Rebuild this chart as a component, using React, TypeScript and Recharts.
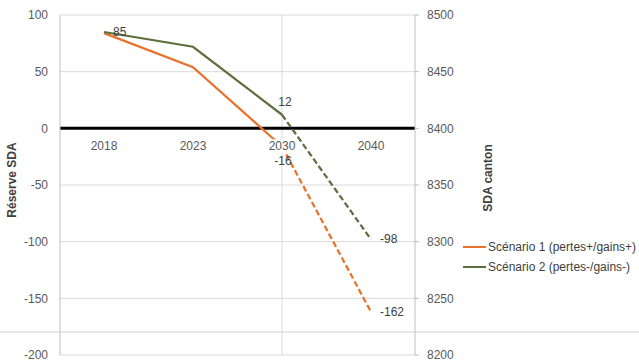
import React from 'react';
import {
  LineChart,
  Line,
  XAxis,
  YAxis,
  CartesianGrid,
  ReferenceLine,
  ReferenceDot,
} from 'recharts';

const categories = ['2018', '2023', '2030', '2040'];
const scenario1 = [84, 54, -16, -162];
const scenario2 = [85, 72, 12, -98];
const seriesNames = ['Scénario 1 (pertes+/gains+)', 'Scénario 2 (pertes-/gains-)'];
const seriesColors = ['#E8722A', '#5E6F3E'];
const leftTicks = [-200, -150, -100, -50, 0, 50, 100];
const rightTicks = [8200, 8250, 8300, 8350, 8400, 8450, 8500];
const projectionStart = 2; // index from which the line is dashed

const data = categories.map((c, i) => ({
  cat: c,
  s1Solid: i <= projectionStart ? scenario1[i] : null,
  s1Dashed: i >= projectionStart ? scenario1[i] : null,
  s2Solid: i <= projectionStart ? scenario2[i] : null,
  s2Dashed: i >= projectionStart ? scenario2[i] : null,
}));

const FONT = '"Liberation Sans", Arial, sans-serif';

const makeLabel = (values: number[], placement: Record<number, string>) => (props: any) => {
  const { x, y, index } = props;
  const where = placement[index];
  if (!where || x == null || y == null) return null;
  let tx = x;
  let ty = y;
  let anchor: 'start' | 'middle' = 'middle';
  if (where === 'right') {
    tx = x + 9;
    anchor = 'start';
  } else if (where === 'above') {
    tx = x + 3;
    ty = y - 13;
  } else if (where === 'below') {
    tx = x + 1;
    ty = y + 15;
  }
  return (
    <text
      key={`lbl-${index}`}
      x={tx}
      y={ty}
      textAnchor={anchor}
      dominantBaseline="central"
      fontFamily={FONT}
      fontSize={12}
      fill="#404040"
    >
      {values[index]}
    </text>
  );
};

const CategoryLabel = (props: any) => {
  const { viewBox, value } = props;
  const cx = viewBox.x + (viewBox.width || 0) / 2;
  const cy = viewBox.y + (viewBox.height || 0) / 2;
  return (
    <g>
      <rect x={cx - 14} y={cy + 11} width={28} height={14} fill="#ffffff" />
      <text
        x={cx}
        y={cy + 18}
        textAnchor="middle"
        dominantBaseline="central"
        fontFamily={FONT}
        fontSize={12}
        fill="#595959"
      >
        {value}
      </text>
    </g>
  );
};

export default function App() {
  return (
    <div
      style={{
        position: 'absolute',
        left: 0,
        top: 0,
        width: 639,
        height: 362,
        background: '#ffffff',
        overflow: 'hidden',
        fontFamily: FONT,
      }}
    >
      <div
        style={{
          position: 'absolute',
          left: 0,
          top: 331,
          width: 639,
          height: 2,
          background: '#e8e8e8',
        }}
      />
      <div style={{ position: 'absolute', left: 0, top: 0 }}>
        <LineChart
          width={639}
          height={362}
          data={data}
          margin={{ top: 15, right: 78, bottom: 7, left: 0 }}
        >
          <CartesianGrid
            yAxisId="left"
            vertical={false}
            stroke="#d9d9d9"
            strokeWidth={1}
          />
          <XAxis dataKey="cat" hide padding={{ left: 44, right: 44 }} />
          <YAxis
            yAxisId="left"
            domain={[-200, 100]}
            ticks={leftTicks}
            interval={0}
            width={60}
            axisLine={{ stroke: '#bfbfbf' }}
            tickLine={false}
            tickSize={4}
            tickMargin={8}
            tick={{ fontFamily: FONT, fontSize: 12, fill: '#595959' }}
            label={{
              value: 'Réserve SDA',
              angle: -90,
              position: 'center',
              dx: -18,
              dy: -5,
              style: { fontFamily: FONT, fontSize: 12, fontWeight: 'bold', fill: '#404040' },
            }}
          />
          <YAxis
            yAxisId="right"
            orientation="right"
            type="number"
            domain={[8200, 8500]}
            ticks={rightTicks}
            interval={0}
            allowDataOverflow
            width={146}
            axisLine={{ stroke: '#bfbfbf' }}
            tickLine={{ stroke: '#bfbfbf' }}
            tickSize={4}
            tickMargin={8}
            tick={{ fontFamily: FONT, fontSize: 12, fill: '#595959', textAnchor: 'start' }}
            label={{
              value: 'SDA canton',
              angle: -90,
              position: 'center',
              dx: 0,
              dy: -7,
              style: { fontFamily: FONT, fontSize: 12, fontWeight: 'bold', fill: '#404040' },
            }}
          />
          <ReferenceLine yAxisId="left" x={categories[2]} stroke="#d9d9d9" strokeWidth={1} />
          <ReferenceLine yAxisId="left" y={0} stroke="#000000" strokeWidth={3} />
          <Line
            yAxisId="left"
            dataKey="s1Solid"
            stroke={seriesColors[0]}
            strokeWidth={2.25}
            dot={false}
            isAnimationActive={false}
            connectNulls={false}
          />
          <Line
            yAxisId="left"
            dataKey="s1Dashed"
            stroke={seriesColors[0]}
            strokeWidth={2.25}
            strokeDasharray="6 3"
            dot={false}
            isAnimationActive={false}
            label={makeLabel(scenario1, { 2: 'below', 3: 'right' })}
          />
          <Line
            yAxisId="left"
            dataKey="s2Solid"
            stroke={seriesColors[1]}
            strokeWidth={2.25}
            dot={false}
            isAnimationActive={false}
            label={makeLabel(scenario2, { 0: 'right', 2: 'above' })}
          />
          <Line
            yAxisId="left"
            dataKey="s2Dashed"
            stroke={seriesColors[1]}
            strokeWidth={2.25}
            strokeDasharray="6 3"
            dot={false}
            isAnimationActive={false}
            label={makeLabel(scenario2, { 3: 'right' })}
          />
          {categories.map((c) => (
            <ReferenceDot
              key={c}
              yAxisId="left"
              x={c}
              y={0}
              r={0}
              fill="none"
              stroke="none"
              label={<CategoryLabel value={c} />}
            />
          ))}
        </LineChart>
      </div>
      <div
        style={{
          position: 'absolute',
          left: 463,
          top: 237,
          fontFamily: FONT,
          fontSize: 12,
          color: '#404040',
          lineHeight: '20px',
        }}
      >
        {seriesNames.map((name, i) => (
          <div key={name} style={{ display: 'flex', alignItems: 'center', whiteSpace: 'nowrap' }}>
            <span
              style={{
                display: 'inline-block',
                width: 23,
                height: 2,
                background: seriesColors[i],
                marginRight: 2,
              }}
            />
            <span>{name}</span>
          </div>
        ))}
      </div>
    </div>
  );
}
